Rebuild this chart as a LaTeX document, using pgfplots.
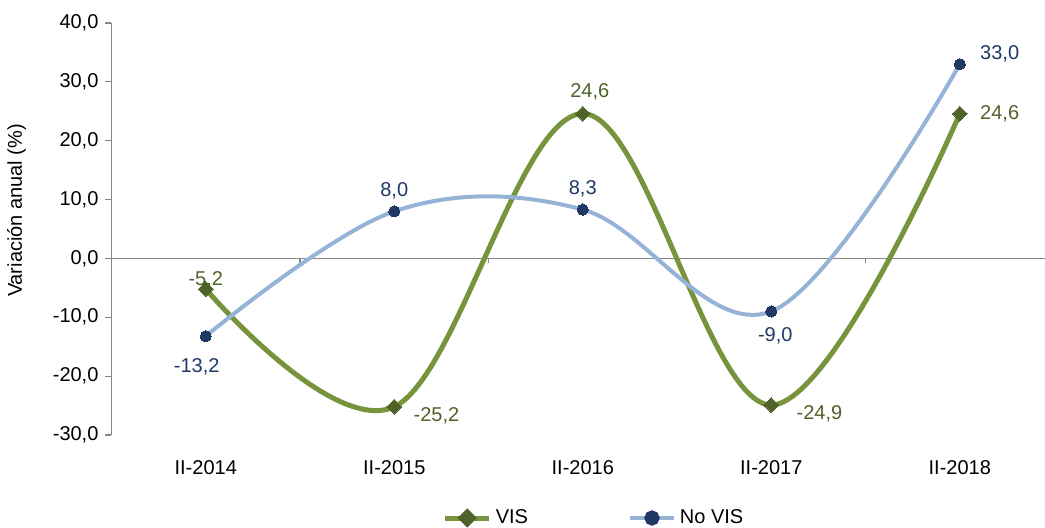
\documentclass[border=0pt]{standalone}
\usepackage{pgfplots}
\pgfplotsset{compat=1.18}
\usepackage{fontspec}
\setmainfont{Liberation Sans}
\definecolor{visline}{HTML}{77933C}
\definecolor{vismark}{HTML}{4F6228}
\definecolor{nvline}{HTML}{95B3D7}
\definecolor{nvmark}{HTML}{1F3864}
\definecolor{axgray}{HTML}{868686}
\pgfplotsset{lbl/.style={draw=none, mark=none, forget plot, nodes near coords,
  nodes near coords style={/pgf/number format/.cd, fixed, fixed zerofill, precision=1, use comma, assume math mode=true, /tikz/.cd, font=\fontsize{10}{12}\selectfont, inner sep=4pt, #1}}}
\begin{document}
\begin{tikzpicture}
\useasboundingbox (-55.75pt,-46pt) rectangle (466.75pt,217.5pt);
\begin{axis}[
  at={(0pt,0pt)}, anchor=south west,
  scale only axis, width=466.75pt, height=206pt,
  xmin=-0.5, xmax=4.452, ymin=-30, ymax=40,
  clip=false,
  axis x line=bottom, axis y line=left,
  x axis line style={draw=none}, y axis line style={draw=axgray, line width=0.6pt, -},
  xtick={0,1,2,3,4}, xticklabels={II-2014,II-2015,II-2016,II-2017,II-2018},
  x tick style={draw=none}, major tick length=3pt,
  ytick={-30,-20,...,40},
  y tick style={draw=axgray, line width=0.6pt},
  tick align=outside,
  yticklabel style={/pgf/number format/.cd, fixed, fixed zerofill, precision=1, use comma, assume math mode=true},
  ticklabel style={font=\fontsize{10}{12}\selectfont, text=black},
  xticklabel style={yshift=-6pt},
  ylabel={Variación anual (\%)},
  ylabel style={font=\fontsize{10}{12}\selectfont, at={(ticklabel cs:0.545)}, yshift=6.5pt},
  legend style={at={(0.518,0)}, yshift=-41.5pt, anchor=center, draw=none, fill=none,
    legend columns=2, font=\fontsize{10}{12}\selectfont,
    /tikz/every even column/.append style={column sep=48pt}},
  legend cell align=left,
]
\draw[axgray, line width=0.6pt] (axis cs:-0.5,0) -- (axis cs:4.452,0);
\pgfplotsinvokeforeach{0.5,1.5,2.5,3.5}{\draw[axgray, line width=0.6pt] (axis cs:#1,0) -- ([yshift=-2.5pt]axis cs:#1,0);}
\addplot[smooth, tension=0.6, visline, line width=2.5pt, mark=square*, mark size=2.6pt,
  mark options={fill=vismark, draw=vismark, line width=0pt, rotate=45},
  legend image code/.code={\draw[visline, line width=2.5pt] (0,0) -- (22pt,0); \fill[vismark] (11pt,0) +(-3pt,0) -- +(0,3pt) -- +(3pt,0) -- +(0,-3pt) -- cycle;}]
  coordinates {(0,-5.2) (1,-25.2) (2,24.6) (3,-24.9) (4,24.6)};
\addlegendentry{VIS}
\addplot[smooth, tension=0.6, nvline, line width=2pt, mark=*, mark size=2.8pt,
  mark options={fill=nvmark, draw=nvmark, line width=0pt},
  legend image code/.code={\draw[nvline, line width=2pt] (0,0) -- (22pt,0); \fill[nvmark] (11pt,0) circle (2.8pt);}]
  coordinates {(0,-13.2) (1,8.0) (2,8.3) (3,-9.0) (4,33.0)};
\addlegendentry{No VIS}
% data labels
\addplot[lbl={anchor=south, text=vismark, yshift=-3.5pt}] coordinates {(0,-5.2)};
\addplot[lbl={anchor=south, text=vismark, yshift=2.5pt, xshift=3.5pt}] coordinates {(2,24.6)};
\addplot[lbl={anchor=west, text=vismark, xshift=5.5pt, yshift=-4.5pt}] coordinates {(1,-25.2)};
\addplot[lbl={anchor=west, text=vismark, xshift=8.5pt, yshift=-4.5pt}] coordinates {(3,-24.9)};
\addplot[lbl={anchor=west, text=vismark, xshift=6pt}] coordinates {(4,24.6)};
\addplot[lbl={anchor=north, text=nvmark, yshift=-7pt, xshift=-4.5pt}] coordinates {(0,-13.2)};
\addplot[lbl={anchor=north, text=nvmark, yshift=-4pt, xshift=2pt}] coordinates {(3,-9.0)};
\addplot[lbl={anchor=south, text=nvmark, yshift=2pt}] coordinates {(1,8.0) (2,8.3)};
\addplot[lbl={anchor=west, text=nvmark, xshift=6pt, yshift=5pt}] coordinates {(4,33.0)};
\end{axis}
\end{tikzpicture}
\end{document}
